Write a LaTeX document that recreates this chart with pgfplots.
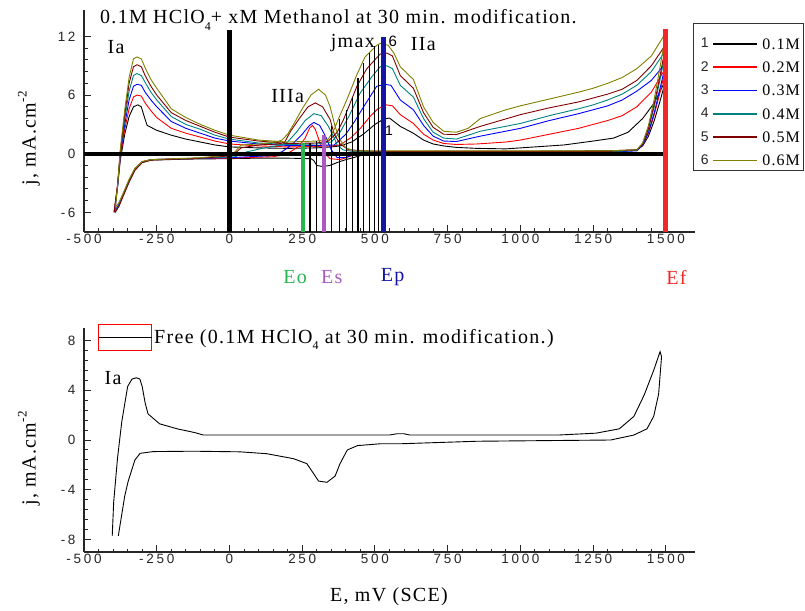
\documentclass[border=0pt]{standalone}
\usepackage{pgfplots}
\pgfplotsset{compat=1.18}
\usepackage{fontspec}
\setmainfont[LetterSpace=6.5]{Liberation Serif}
\newfontfamily\tickfont[LetterSpace=20]{Liberation Sans}
\newfontfamily\numfont{Liberation Sans}
\definecolor{cteal}{RGB}{0,128,128}
\definecolor{cbrown}{RGB}{128,0,0}
\definecolor{colive}{RGB}{128,128,0}
\definecolor{cgreen}{RGB}{40,180,80}
\definecolor{cpurple}{RGB}{170,90,190}
\definecolor{cblue}{RGB}{20,20,165}
\definecolor{cred}{RGB}{240,40,40}
\pgfplotsset{
  numleg/.style={legend image code/.code={%
     \path (-2.8pt,5.3pt) (61pt,5.3pt);
     \node[anchor=east,inner sep=0pt,text=black!85,font=\numfont\fontsize{14}{14}\selectfont] at (9pt,5.3pt) {#1};
     \draw[##1, line width=1.7pt] (13pt,5.3pt) -- (57pt,5.3pt);}},
  cvaxis/.style={
     scale only axis, width=611pt, xmin=-500, xmax=1600,
     axis lines=left, axis line style={-, line width=1.2pt, black!85},
     tick align=inside, major tick length=7pt, minor tick length=3.5pt,
     tick style={black!85, line width=1pt},
     xtick={-500,-250,0,250,500,750,1000,1250,1500},
     xticklabels={-500,-250,0,250,500,750,1000,1250,1500},
     minor x tick num=4, minor y tick num=4,
     ticklabel style={font=\tickfont\fontsize{13.5}{13.5}\selectfont, black!85},
     yticklabel style={xshift=-5pt},
     xticklabel style={yshift=1.5pt},
     clip=false,
  },
  cv/.style={line width=0.9pt},
}
\begin{document}
\begin{tikzpicture}[x=1pt,y=1pt]
\path[use as bounding box] (0,0) rectangle (805,610);
% ---------------- top axis ----------------
\begin{axis}[cvaxis,
  at={(84pt,378pt)}, anchor=south west, height=222pt,
  ymin=-8, ymax=14.7,
  ytick={-6,0,6,12}, yticklabels={-6,0,6,12},
  legend style={at={(0.997,0.941)}, anchor=north west, draw=black!80, line width=1.2pt,
     fill=white, font=\fontsize{16}{16}\selectfont, inner xsep=3pt, inner ysep=1.5pt,
     row sep=7.2pt, nodes={inner xsep=1pt}, cells={anchor=base west}},
]
\addplot[black, cv, numleg=1] coordinates {
(-397,-6.0) (-385,-3.4) (-375,-0.6) (-360,2.0) (-345,3.8) (-330,4.8) (-315,5.0) (-303,4.8) (-293,3.8) (-283,2.9) (-250,2.4) (-200,1.9) (-150,1.5) (-100,1.2) (-50,0.9) (0,0.7) (100,0.6) (200,0.55) (300,0.6) (350,0.7) (380,0.8) (420,1.2) (460,2.0) (500,3.0) (530,3.55) (550,3.65) (587,2.8) (632,2.1) (667,1.4) (700,1.0) (736,0.8) (780,0.65) (850,0.55) (950,0.5) (1050,0.7) (1150,0.9) (1250,1.3) (1320,1.6) (1370,2.2) (1420,3.6) (1460,5.2) (1500,7.6)
(1480,5.4) (1460,3.4) (1440,1.8) (1420,0.8) (1400,0.4) (1300,0.3) (1000,0.25) (700,0.25) (500,0.15) (450,-0.2) (400,-0.6) (370,-0.9) (345,-1.2) (320,-1.3) (300,-1.2) (290,-0.7) (280,-0.5) (200,-0.45) (100,-0.45) (0,-0.5) (-150,-0.55) (-270,-0.65) (-300,-0.9) (-325,-1.6) (-345,-2.8) (-365,-4.2) (-380,-5.3) (-393,-6.0)};
\addlegendentry{\rule{0pt}{22pt}0.1M}
\addplot[red, cv, numleg=2] coordinates {
(-395,-5.8) (-385,-3.3) (-375,-0.3) (-360,2.5) (-345,4.6) (-330,5.8) (-318,6.0) (-303,5.9) (-290,5.2) (-270,4.4) (-250,3.7) (-200,2.6) (-150,2.1) (-100,1.7) (-50,1.3) (0,1.0) (100,0.8) (200,0.7) (300,0.75) (350,0.8) (380,0.9) (420,1.7) (450,2.6) (483,3.8) (510,4.6) (540,5.0) (560,4.9) (587,4.0) (632,3.1) (667,2.0) (700,1.4) (736,1.05) (780,0.95) (850,1.0) (950,1.2) (1000,1.4) (1100,2.0) (1200,2.6) (1250,3.0) (1300,3.4) (1350,3.9) (1400,4.8) (1450,6.3) (1500,8.8)
(1480,6.3) (1460,4.0) (1440,2.1) (1420,0.9) (1400,0.35) (1300,0.2) (1000,0.2) (700,0.2) (500,0.15) (470,0.1) (420,-0.2) (380,-0.6) (345,-0.5) (325,0.2) (310,1.2) (295,2.5) (285,2.9) (275,2.6) (260,1.6) (240,0.8) (215,0.3) (190,-0.1) (150,-0.3) (0,-0.45) (-150,-0.5) (-270,-0.6) (-300,-0.8) (-325,-1.5) (-345,-2.7) (-365,-4.1) (-380,-5.2) (-392,-5.9)};
\addlegendentry{0.2M}
\addplot[blue, cv, numleg=3] coordinates {
(-393,-5.6) (-384,-3.2) (-375,0.0) (-360,3.0) (-345,5.5) (-330,6.9) (-318,7.1) (-303,7.0) (-290,6.3) (-270,5.5) (-250,4.8) (-200,3.3) (-150,2.6) (-100,2.1) (-50,1.6) (0,1.3) (100,1.0) (200,0.85) (300,0.85) (360,0.9) (400,2.0) (430,3.3) (461,4.8) (506,6.9) (535,7.1) (555,7.0) (587,5.5) (632,4.5) (667,2.9) (700,1.8) (736,1.3) (780,1.25) (862,1.8) (1000,2.6) (1100,3.4) (1200,4.1) (1250,4.5) (1300,4.9) (1350,5.5) (1400,6.4) (1450,7.5) (1500,9.3)
(1480,6.7) (1460,4.2) (1440,2.2) (1420,0.9) (1400,0.3) (1300,0.15) (1000,0.15) (700,0.15) (500,0.1) (430,0.0) (400,-0.4) (370,-0.4) (350,0.4) (330,1.8) (310,2.9) (290,3.2) (275,2.9) (250,2.0) (220,1.1) (200,0.6) (180,0.2) (140,-0.2) (0,-0.4) (-150,-0.5) (-270,-0.6) (-300,-0.85) (-325,-1.6) (-345,-2.8) (-365,-4.2) (-380,-5.2) (-391,-5.7)};
\addlegendentry{0.3M}
\addplot[cteal, cv, numleg=4] coordinates {
(-394,-5.7) (-384,-3.2) (-375,0.2) (-360,3.5) (-345,6.4) (-330,8.0) (-318,8.2) (-303,8.0) (-290,7.3) (-270,6.3) (-250,5.5) (-200,3.8) (-150,3.0) (-100,2.5) (-50,1.9) (0,1.5) (100,1.1) (200,0.95) (300,1.0) (350,1.2) (380,2.2) (410,3.8) (449,6.2) (490,7.9) (518,8.9) (540,9.0) (560,8.7) (587,7.0) (632,5.8) (667,3.6) (700,2.2) (736,1.6) (780,1.5) (862,2.3) (1000,3.1) (1100,3.9) (1200,4.6) (1250,5.0) (1300,5.5) (1350,6.1) (1400,7.0) (1450,8.4) (1500,10.6)
(1480,7.6) (1460,4.8) (1440,2.5) (1420,1.0) (1400,0.35) (1300,0.2) (1000,0.2) (700,0.2) (500,0.2) (420,0.25) (390,0.4) (370,0.9) (360,1.6) (340,2.8) (315,3.9) (290,4.1) (260,3.4) (230,2.2) (200,1.2) (180,0.9) (120,0.6) (60,0.2) (20,-0.3) (-100,-0.45) (-270,-0.6) (-300,-0.85) (-325,-1.6) (-345,-2.8) (-365,-4.2) (-380,-5.3) (-392,-5.8)};
\addlegendentry{0.4M}
\addplot[cbrown, cv, numleg=5] coordinates {
(-396,-5.9) (-385,-3.3) (-375,0.3) (-360,4.0) (-345,7.2) (-330,8.9) (-318,9.1) (-303,8.9) (-290,8.0) (-270,6.9) (-250,6.0) (-200,4.2) (-150,3.4) (-100,2.8) (-50,2.2) (0,1.7) (100,1.3) (200,1.05) (300,1.1) (340,1.3) (370,2.2) (392,3.5) (438,6.9) (472,8.7) (518,10.2) (540,10.3) (560,10.0) (587,8.0) (632,6.7) (667,4.2) (700,2.7) (736,2.0) (780,1.96) (862,2.8) (1000,4.0) (1100,4.7) (1200,5.3) (1250,5.7) (1300,6.1) (1350,6.6) (1400,7.5) (1450,9.0) (1500,11.2)
(1480,8.0) (1460,5.1) (1440,2.6) (1420,1.0) (1400,0.4) (1300,0.25) (1000,0.25) (700,0.25) (500,0.25) (410,0.4) (380,1.0) (360,2.0) (346,3.5) (320,4.8) (295,5.2) (270,4.8) (240,3.6) (210,2.3) (190,1.2) (170,1.0) (100,0.9) (40,0.6) (10,-0.2) (-100,-0.45) (-270,-0.65) (-300,-0.9) (-325,-1.7) (-345,-2.9) (-365,-4.3) (-380,-5.4) (-394,-6.0)};
\addlegendentry{0.5M}
\addplot[colive, cv, numleg=6] coordinates {
(-392,-5.5) (-384,-3.0) (-375,0.5) (-360,4.5) (-345,7.8) (-330,9.7) (-318,9.9) (-303,9.7) (-290,8.8) (-270,7.6) (-250,6.7) (-200,4.6) (-150,3.7) (-100,3.0) (-50,2.4) (0,1.9) (100,1.4) (200,1.2) (300,1.3) (340,1.5) (360,2.5) (375,3.6) (403,5.5) (438,8.1) (466,9.9) (506,11.1) (520,11.3) (545,11.1) (565,10.3) (587,8.9) (632,7.6) (667,4.8) (700,3.2) (736,2.3) (780,2.2) (820,2.6) (862,3.6) (950,4.5) (1000,4.9) (1100,5.6) (1200,6.3) (1250,6.7) (1300,7.2) (1350,7.8) (1400,8.7) (1450,10.0) (1500,12.4)
(1480,8.9) (1460,5.6) (1440,2.9) (1420,1.1) (1400,0.4) (1300,0.3) (1000,0.3) (700,0.3) (500,0.3) (430,0.3) (400,0.6) (378,1.5) (363,2.8) (346,4.8) (330,6.0) (306,6.6) (280,6.0) (250,4.6) (220,3.0) (200,2.0) (180,1.4) (160,1.2) (100,1.0) (40,0.9) (10,-0.1) (-100,-0.4) (-270,-0.6) (-300,-0.8) (-325,-1.5) (-345,-2.6) (-365,-4.0) (-380,-5.0) (-390,-5.4)};
\addlegendentry{0.6M}
% thin vertical lines
\addplot[black, line width=1.2pt, forget plot] coordinates {(277,-8) (277,1.1)};
\addplot[black, line width=1.2pt, forget plot] coordinates {(298,-8) (298,1.3)};
\addplot[black, line width=1.2pt, forget plot] coordinates {(352,-8) (352,2.8)};
\addplot[black, line width=1.2pt, forget plot] coordinates {(378,-8) (378,3.6)};
\addplot[black, line width=1.2pt, forget plot] coordinates {(401,-8) (401,4.5)};
\addplot[black, line width=1.2pt, forget plot] coordinates {(423,-8) (423,5.8)};
\addplot[black, line width=1.2pt, forget plot] coordinates {(442,-8) (442,7.7)};
\addplot[black, line width=1.2pt, forget plot] coordinates {(461,-8) (461,9.3)};
\addplot[black, line width=1.2pt, forget plot] coordinates {(481,-8) (481,10.3)};
\addplot[black, line width=1.2pt, forget plot] coordinates {(498,-8) (498,11.0)};
\addplot[black, line width=1.2pt, forget plot] coordinates {(513,-8) (513,11.1)};
% thick lines
\addplot[black, line width=4.5pt, forget plot] coordinates {(-500,0) (1505,0)};
\addplot[black, line width=4.3pt, forget plot] coordinates {(0,-8) (0,12.7)};
\addplot[cgreen, line width=4.5pt, forget plot] coordinates {(252,-8) (252,1.1)};
\addplot[cpurple, line width=4.5pt, forget plot] coordinates {(325,-8) (325,1.9)};
\addplot[cblue, line width=5pt, forget plot] coordinates {(528,-8) (528,11.9)};
\addplot[cred, line width=5pt, forget plot] coordinates {(1500,-8) (1500,12.8)};
% labels
\node[font=\fontsize{20}{20}\selectfont] at (axis cs:-390,10.95) {Ia};
\node[font=\fontsize{20}{20}\selectfont] at (axis cs:200,5.9) {IIIa};
\node[font=\fontsize{20}{20}\selectfont] at (axis cs:424,11.3) {jmax};
\node[font=\numfont\fontsize{15}{15}\selectfont] at (axis cs:561,11.5) {6};
\node[font=\fontsize{20}{20}\selectfont] at (axis cs:666,11.2) {IIa};
\node[font=\numfont\fontsize{14}{14}\selectfont] at (axis cs:548,2.4) {1};
\node[font=\fontsize{20}{20}\selectfont, text=cgreen] at (axis cs:226,-12.65) {Eo};
\node[font=\fontsize{20}{20}\selectfont, text=cpurple] at (axis cs:352,-12.65) {Es};
\node[font=\fontsize{20}{20}\selectfont, text=cblue] at (axis cs:561,-12.65) {Ep};
\node[font=\fontsize{20}{20}\selectfont, text=cred] at (axis cs:1536,-12.65) {Ef};
\end{axis}
% ---------------- bottom axis ----------------
\begin{axis}[cvaxis,
  at={(84pt,58pt)}, anchor=south west, height=224pt,
  ymin=-9, ymax=9,
  ytick={-8,-4,0,4,8}, yticklabels={-8,-4,0,4,8},
  legend style={at={(0.0229,0.957)}, anchor=west, draw=none, fill=none,
     inner sep=0pt, font=\fontsize{20}{20}\selectfont, cells={anchor=west}},
]
\addplot[black, cv, legend image code/.code={%
   \draw[red, line width=0.9pt] (0pt,-13pt) rectangle (53pt,13pt);
   \draw[black, line width=1pt] (0pt,0pt) -- (53pt,0pt);}] coordinates {
(-403,-7.7) (-398,-5.0) (-385,-1.5) (-370,1.5) (-350,4.3) (-335,4.9) (-320,5.0) (-308,4.9) (-300,4.3) (-290,3.0) (-280,2.1) (-240,1.3) (-180,0.9) (-120,0.6) (-90,0.4) (550,0.4) (575,0.5) (600,0.5) (620,0.4) (1130,0.4) (1260,0.55) (1340,0.9) (1390,1.9) (1425,3.6) (1458,5.6) (1480,7.1)
(1485,6.7) (1475,3.7) (1458,1.9) (1435,0.9) (1390,0.4) (1310,0.0) (850,-0.1) (590,-0.3) (520,-0.3) (440,-0.45) (405,-0.8) (380,-1.9) (363,-2.9) (335,-3.4) (306,-3.3) (289,-2.7) (266,-1.9) (220,-1.5) (128,-1.1) (36,-0.95) (-124,-0.9) (-262,-0.93) (-307,-1.07) (-325,-1.6) (-348,-3.3) (-360,-4.5) (-382,-7.7)};
\addlegendentry{Free (0.1M HClO\raisebox{-6pt}{\fontsize{12}{12}\selectfont 4} at 30 min. modification.)}
\node[font=\fontsize{20}{20}\selectfont] at (axis cs:-400,5.0) {Ia};
\end{axis}
% ---------------- free text ----------------
\node[anchor=base west, inner sep=0pt, font=\fontsize{20}{20}\selectfont] at (100,586.7)
  {0.1M HClO\raisebox{-7pt}{\fontsize{12}{12}\selectfont 4}+ xM Methanol at 30 min. modification.};
\node[rotate=90, font=\fontsize{20}{20}\selectfont] at (29,472)
  {j, mA.cm\raisebox{9pt}{\fontsize{13}{13}\selectfont -2}};
\node[rotate=90, font=\fontsize{20}{20}\selectfont] at (29,152)
  {j, mA.cm\raisebox{9pt}{\fontsize{13}{13}\selectfont -2}};
\node[font=\fontsize{20}{20}\selectfont] at (389,13) {E, mV (SCE)};
\end{tikzpicture}
\end{document}
